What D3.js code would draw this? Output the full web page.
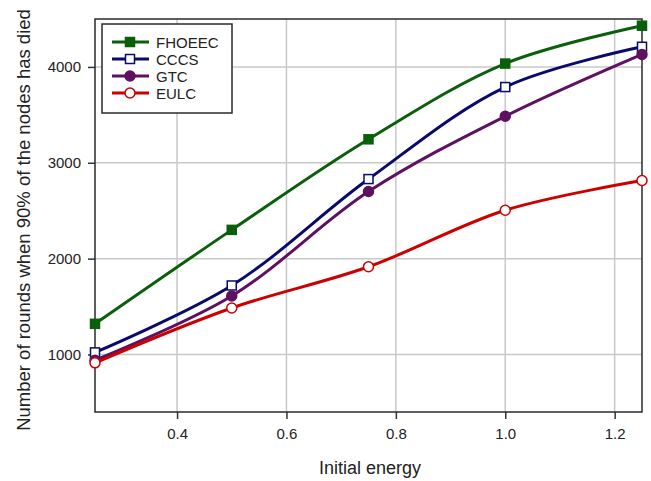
<!DOCTYPE html>
<html>
<head>
<meta charset="utf-8">
<script src="https://cdn.jsdelivr.net/npm/d3@7"></script>
<style>
  body { margin: 0; background: #fff; }
  text { font-family: Arial, "Liberation Sans", sans-serif; fill: #222; }
</style>
</head>
<body>
<div id="chart"></div>
<script>
// values
var energy = [0.25, 0.5, 0.75, 1.0, 1.25];
var fhoeec = [1320, 2300, 3245, 4035, 4430];
var cccs   = [1022, 1720, 2830, 3790, 4210];
var gtc    = [940, 1610, 2700, 3485, 4130];
var eulc   = [913, 1485, 1915, 2505, 2815];
var xTicks = [0.4, 0.6, 0.8, 1.0, 1.2];
var yTicks = [1000, 2000, 3000, 4000];

var series = [
  {name: "FHOEEC", values: fhoeec, color: "#0a5f0a", marker: "square", fill: true},
  {name: "CCCS", values: cccs, color: "#0a0a6e", marker: "square", fill: false},
  {name: "GTC", values: gtc, color: "#5e1160", marker: "circle", fill: true},
  {name: "EULC", values: eulc, color: "#cc0000", marker: "circle", fill: false}
];

var width = 651, height = 481;
var margin = {top: 19, right: 9, bottom: 69, left: 95};

var svg = d3.select("#chart").append("svg")
  .attr("width", width).attr("height", height);

var x = d3.scaleLinear().domain([0.25, 1.25]).range([margin.left, width - margin.right]);
var y = d3.scaleLinear().domain([400, 4500]).range([height - margin.bottom, margin.top]);

// grid
svg.append("g").selectAll("line").data(xTicks).enter().append("line")
  .attr("x1", function(d) { return x(d); }).attr("x2", function(d) { return x(d); })
  .attr("y1", y(4500)).attr("y2", y(400))
  .attr("stroke", "#c8c8c8").attr("stroke-width", 1.5);
svg.append("g").selectAll("line").data(yTicks).enter().append("line")
  .attr("y1", function(d) { return y(d); }).attr("y2", function(d) { return y(d); })
  .attr("x1", x(0.25)).attr("x2", x(1.25))
  .attr("stroke", "#c8c8c8").attr("stroke-width", 1.5);

// axes
var xAxis = svg.append("g")
  .attr("transform", "translate(0," + (height - margin.bottom) + ")")
  .call(d3.axisBottom(x).tickValues(xTicks).tickFormat(d3.format(".1f")).tickSize(7).tickSizeOuter(0).tickPadding(9));
var yAxis = svg.append("g")
  .attr("transform", "translate(" + margin.left + ",0)")
  .call(d3.axisLeft(y).tickValues(yTicks).tickFormat(d3.format("d")).tickSize(7).tickSizeOuter(0).tickPadding(7));
[xAxis, yAxis].forEach(function(a) {
  a.select(".domain").remove();
  a.selectAll("line").attr("stroke", "#333").attr("stroke-width", 1.5);
  a.selectAll("text").style("font-size", "15px").attr("fill", "#222");
});

// frame
svg.append("rect")
  .attr("x", x(0.25)).attr("y", y(4500))
  .attr("width", x(1.25) - x(0.25)).attr("height", y(400) - y(4500))
  .attr("fill", "none").attr("stroke", "#2a2a2a").attr("stroke-width", 1.5);

var line = d3.line()
  .x(function(d, i) { return x(energy[i]); })
  .y(function(d) { return y(d); })
  .curve(d3.curveCatmullRom.alpha(0.5));

function drawMarker(g, s, cx, cy) {
  if (s.marker == "square") {
    g.append("rect").attr("x", cx - 4.5).attr("y", cy - 4.5).attr("width", 9).attr("height", 9)
      .attr("fill", s.fill ? s.color : "#fff").attr("stroke", s.color).attr("stroke-width", 1.5);
  } else {
    g.append("circle").attr("cx", cx).attr("cy", cy).attr("r", 5)
      .attr("fill", s.fill ? s.color : "#fff").attr("stroke", s.color).attr("stroke-width", 1.5);
  }
}

series.forEach(function(s) {
  var g = svg.append("g");
  g.append("path").datum(s.values).attr("d", line)
    .attr("fill", "none").attr("stroke", s.color).attr("stroke-width", 3);
  s.values.forEach(function(v, i) { drawMarker(g, s, x(energy[i]), y(v)); });
});

// legend
var lg = svg.append("g");
lg.append("rect").attr("x", 102).attr("y", 24).attr("width", 130).attr("height", 89)
  .attr("fill", "#fff").attr("stroke", "#2a2a2a").attr("stroke-width", 1.5);
series.forEach(function(s, i) {
  var ly = 42 + i * 17;
  lg.append("line").attr("x1", 112).attr("x2", 149).attr("y1", ly).attr("y2", ly)
    .attr("stroke", s.color).attr("stroke-width", 3);
  drawMarker(lg, s, 130, ly);
  lg.append("text").attr("x", 156).attr("y", ly + 5.5).style("font-size", "15px").text(s.name);
});

// axis titles
svg.append("text").attr("x", 370).attr("y", 474).attr("text-anchor", "middle")
  .style("font-size", "18px").text("Initial energy");
svg.append("text").attr("transform", "translate(30,220) rotate(-90)").attr("text-anchor", "middle")
  .style("font-size", "18.5px").text("Number of rounds when 90% of the nodes has died");
</script>
</body>
</html>
